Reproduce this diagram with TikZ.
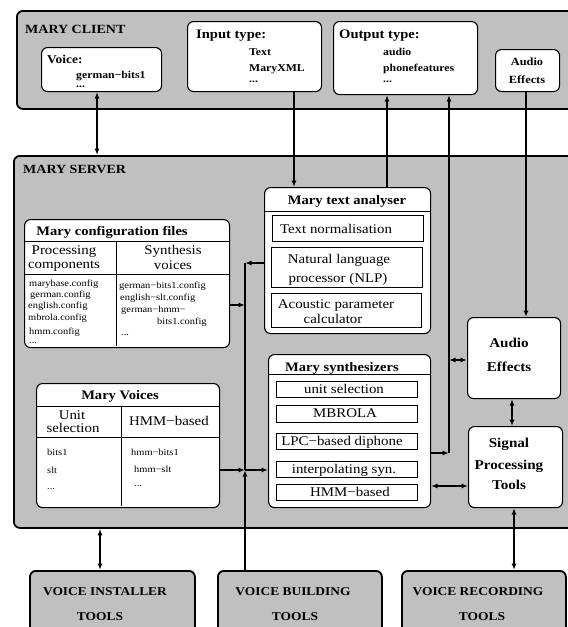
\documentclass[tikz,border=0pt]{standalone}
\usepackage{fontspec}
\setmainfont[FakeStretch=1.12]{Liberation Serif}
\usetikzlibrary{arrows.meta}
\definecolor{panel}{HTML}{C0C0C0}
\newcommand\myfs[1]{\fontsize{#1}{#1}\selectfont}
\begin{document}
\begin{tikzpicture}[x=1pt,y=-1pt,
  >={Latex[length=6.5pt,width=5pt]},
  outer/.style={draw,line width=1.8pt,fill=panel,rounded corners=6pt,inner sep=0pt,anchor=north west},
  wbox/.style={draw,line width=1.1pt,fill=white,rounded corners=6pt,inner sep=0pt,anchor=north west},
  sbox/.style={draw,line width=1pt,fill=white,inner sep=0pt,anchor=north west},
  conn/.style={line width=1.3pt},
  tc/.style={inner sep=0pt,anchor=base},
  tl/.style={inner sep=0pt,anchor=base west},
  big/.style={font=\bfseries\myfs{12.5}},
  hd/.style={font=\bfseries\myfs{13}},
  itm/.style={font=\bfseries\myfs{10.5}},
  rg/.style={font=\myfs{13.3}},
  sm/.style={font=\myfs{9.3}},
  bt/.style={font=\bfseries\myfs{12}},
  ae/.style={font=\bfseries\myfs{13.5}},
  ac/.style={font=\bfseries\myfs{11}}]
\useasboundingbox (0,0) rectangle (568,627);
\clip (0,0) rectangle (568,627);

% ---------- outer panels ----------
\node[outer,minimum width=574pt,minimum height=98pt] (client) at (16,10) {};
\node[outer,minimum width=577pt,minimum height=372pt] (server) at (13,155) {};
\node[outer,minimum width=165pt,minimum height=80pt] (installer) at (29,570) {};
\node[outer,minimum width=164pt,minimum height=80pt] (building) at (217,570) {};
\node[outer,minimum width=164pt,minimum height=80pt] (recording) at (401,570) {};

\node[tl,big] (lclient) at (25,33) {MARY CLIENT};
\node[tl,big] (lserver) at (23,173) {MARY SERVER};

% ---------- client boxes ----------
\node[wbox,minimum width=120pt,minimum height=44pt] (voiceC) at (41,47) {};
\node[tl,hd,font=\bfseries\myfs{12}] (tv1) at (47,63) {Voice:};
\node[tl,itm] (tv2) at (76,78.5) {german−bits1};
\node[tl,itm] (tv3) at (76,87.5) {...};

\node[wbox,minimum width=134pt,minimum height=70pt] (inputC) at (187,21) {};
\node[tl,hd] (ti1) at (196,38) {Input type:};
\node[tl,itm] (ti2) at (249,55.5) {Text};
\node[tl,itm] (ti3) at (249,71.5) {MaryXML};
\node[tl,itm] (ti4) at (249,82) {...};

\node[wbox,minimum width=144pt,minimum height=73pt] (outputC) at (333,21) {};
\node[tl,hd] (to1) at (339,38) {Output type:};
\node[tl,itm] (to2) at (383,55.5) {audio};
\node[tl,itm] (to3) at (383,71.5) {phonefeatures};
\node[tl,itm] (to4) at (383,82) {...};

\node[wbox,minimum width=64pt,minimum height=42pt] (audioC) at (495,49) {};
\node[tc,ac] (tac1) at (527,65.5) {Audio};
\node[tc,ac] (tac2) at (527,83.5) {Effects};

% ---------- configuration files ----------
\node[wbox,minimum width=205pt,minimum height=128pt] (config) at (24,219) {};
\draw[line width=0.8pt] (24,241) -- (229,241);
\draw[line width=0.8pt] (24,274) -- (229,274);
\draw[line width=0.8pt] (116,241) -- (116,346);
\node[tc,hd] (tcf) at (112,235) {Mary configuration files};
\node[tc,rg] (tcp1) at (64,254) {Processing};
\node[tc,rg] (tcp2) at (64,268) {components};
\node[tc,rg] (tcs1) at (173,254) {Synthesis};
\node[tc,rg] (tcs2) at (173,269) {voices};
\node[tl,sm] (c1) at (29,286) {marybase.config};
\node[tl,sm] (c2) at (30,297) {german.config};
\node[tl,sm] (c3) at (28,308.5) {english.config};
\node[tl,sm] (c4) at (28,320) {mbrola.config};
\node[tl,sm] (c5) at (29,334) {hmm.config};
\node[tl,sm] (c6) at (29,343) {...};
\node[tl,sm] (s1) at (119,288) {german−bits1.config};
\node[tl,sm] (s2) at (120,300) {english−slt.config};
\node[tl,sm] (s3) at (121,312) {german−hmm−};
\node[tl,sm] (s4) at (157,324) {bits1.config};
\node[tl,sm] (s5) at (121,335) {...};

% ---------- text analyser ----------
\node[wbox,minimum width=166pt,minimum height=146pt] (analyser) at (264,187) {};
\draw[line width=0.8pt] (264,211) -- (430,211);
\node[tc,hd] (tan) at (347,204) {Mary text analyser};
\node[sbox,minimum width=151pt,minimum height=26pt] (tn) at (272,215) {};
\node[tc,rg] (ttn) at (336,233) {Text normalisation};
\node[sbox,minimum width=151pt,minimum height=40pt] (nlp) at (271,247) {};
\node[tc,rg] (tnl1) at (339,263) {Natural language};
\node[tc,rg] (tnl2) at (338,282) {processor (NLP)};
\node[sbox,minimum width=150pt,minimum height=34pt] (acp) at (271,293) {};
\node[tc,rg] (tap1) at (336,308) {Acoustic parameter};
\node[tc,rg] (tap2) at (333,323) {calculator};

% ---------- synthesizers ----------
\node[wbox,minimum width=162pt,minimum height=153pt] (synth) at (268,354) {};
\draw[line width=0.8pt] (268,374) -- (430,374);
\node[tc,hd] (tsy) at (342,371) {Mary synthesizers};
\node[sbox,minimum width=141pt,minimum height=16pt] (us) at (276,381) {};
\node[tc,rg] (tus) at (344,393) {unit selection};
\node[sbox,minimum width=141pt,minimum height=17pt] (mb) at (276,405) {};
\node[tc,rg] (tmb) at (345,417.5) {MBROLA};
\node[sbox,minimum width=141pt,minimum height=16pt] (lpc) at (276,433) {};
\node[tc,rg] (tlpc) at (342,445) {LPC−based diphone};
\node[sbox,minimum width=141pt,minimum height=16pt] (ip) at (276,461) {};
\node[tc,rg] (tip) at (344,473) {interpolating syn.};
\node[sbox,minimum width=141pt,minimum height=16pt] (hm) at (276,484) {};
\node[tc,rg] (thm) at (350,496) {HMM−based};

% ---------- audio effects / signal processing ----------
\node[wbox,minimum width=93pt,minimum height=81pt] (audioS) at (467,317) {};
\node[tc,ae] (tas1) at (509,347) {Audio};
\node[tc,ae] (tas2) at (509,371) {Effects};
\node[wbox,minimum width=94pt,minimum height=81pt] (signal) at (468,426) {};
\node[tc,ae] (tsp1) at (509,447) {Signal};
\node[tc,ae] (tsp2) at (509,469) {Processing};
\node[tc,ae] (tsp3) at (509,489) {Tools};

% ---------- voices ----------
\node[wbox,minimum width=183pt,minimum height=124pt] (voices) at (36,383) {};
\draw[line width=0.8pt] (36,406) -- (219,406);
\draw[line width=0.8pt] (36,437) -- (219,437);
\draw[line width=0.8pt] (121,406) -- (121,506);
\node[tc,hd] (tmv) at (120,399) {Mary Voices};
\node[tc,rg] (tu1) at (72,419) {Unit};
\node[tc,rg] (tu2) at (73,432) {selection};
\node[tc,rg] (thb) at (169,425) {HMM−based};
\node[tl,sm] (v1) at (47,455) {bits1};
\node[tl,sm] (v2) at (47,473) {slt};
\node[tl,sm] (v3) at (47,489) {...};
\node[tl,sm] (v4) at (131,455) {hmm−bits1};
\node[tl,sm] (v5) at (134,472) {hmm−slt};
\node[tl,sm] (v6) at (134,486) {...};

% ---------- bottom tool labels ----------
\node[tc,bt] (tb1) at (105,595) {VOICE INSTALLER};
\node[tc,bt] (tb2) at (100,620) {TOOLS};
\node[tc,bt] (tb3) at (293,595) {VOICE BUILDING};
\node[tc,bt] (tb4) at (295,620) {TOOLS};
\node[tc,bt] (tb5) at (478,595) {VOICE RECORDING};
\node[tc,bt] (tb6) at (482,620) {TOOLS};

% ---------- connectors ----------
\coordinate (xv) at (97,0);
\coordinate (xin) at (294,0);
\coordinate (xo) at (387,0);
\coordinate (xae) at (526,0);
\coordinate (xa) at (512,0);
\coordinate (xs) at (514,0);
\coordinate (xi) at (100,0);
\coordinate (j1) at (245,263);
\coordinate (j2) at (245,305);
\coordinate (j3) at (245,470);
\coordinate (k1) at (449,453);
\coordinate (k2) at (449,360);
\coordinate (k3) at (0,486);

\draw[conn,<->] (xv |- voiceC.south) -- (xv |- server.north);
\draw[conn,->] (xin |- inputC.south) -- (xin |- analyser.north);
\draw[conn,->] (xo |- analyser.north) -- (xo |- outputC.south);
\draw[conn,->] (xae |- audioC.south) -- (xae |- audioS.north);
\draw[conn,->] (k1 -| synth.east) -- (k1);
\draw[conn,->] (k1) -- (k1 |- outputC.south);
\draw[conn,<->] (k2) -- (k2 -| audioS.west);
\draw[conn,<->] (k3 -| synth.east) -- (k3 -| signal.west);
\draw[conn,<->] (xa |- audioS.south) -- (xa |- signal.north);
\draw[conn,<->] (xs |- signal.south) -- (xs |- recording.north);
\draw[conn,<->] (xi |- server.south) -- (xi |- installer.north);
\draw[conn,->] (j1 -| analyser.west) -- (j1);
\draw[conn,->] (j2 -| config.east) -- (j2);
\draw[conn] (j1) -- (j3);
\draw[conn,->] (j3 |- building.north) -- (j3);
\draw[conn,->] (j3 -| voices.east) -- (j3);
\draw[conn,->] (j3) -- (j3 -| synth.west);
\end{tikzpicture}
\end{document}
